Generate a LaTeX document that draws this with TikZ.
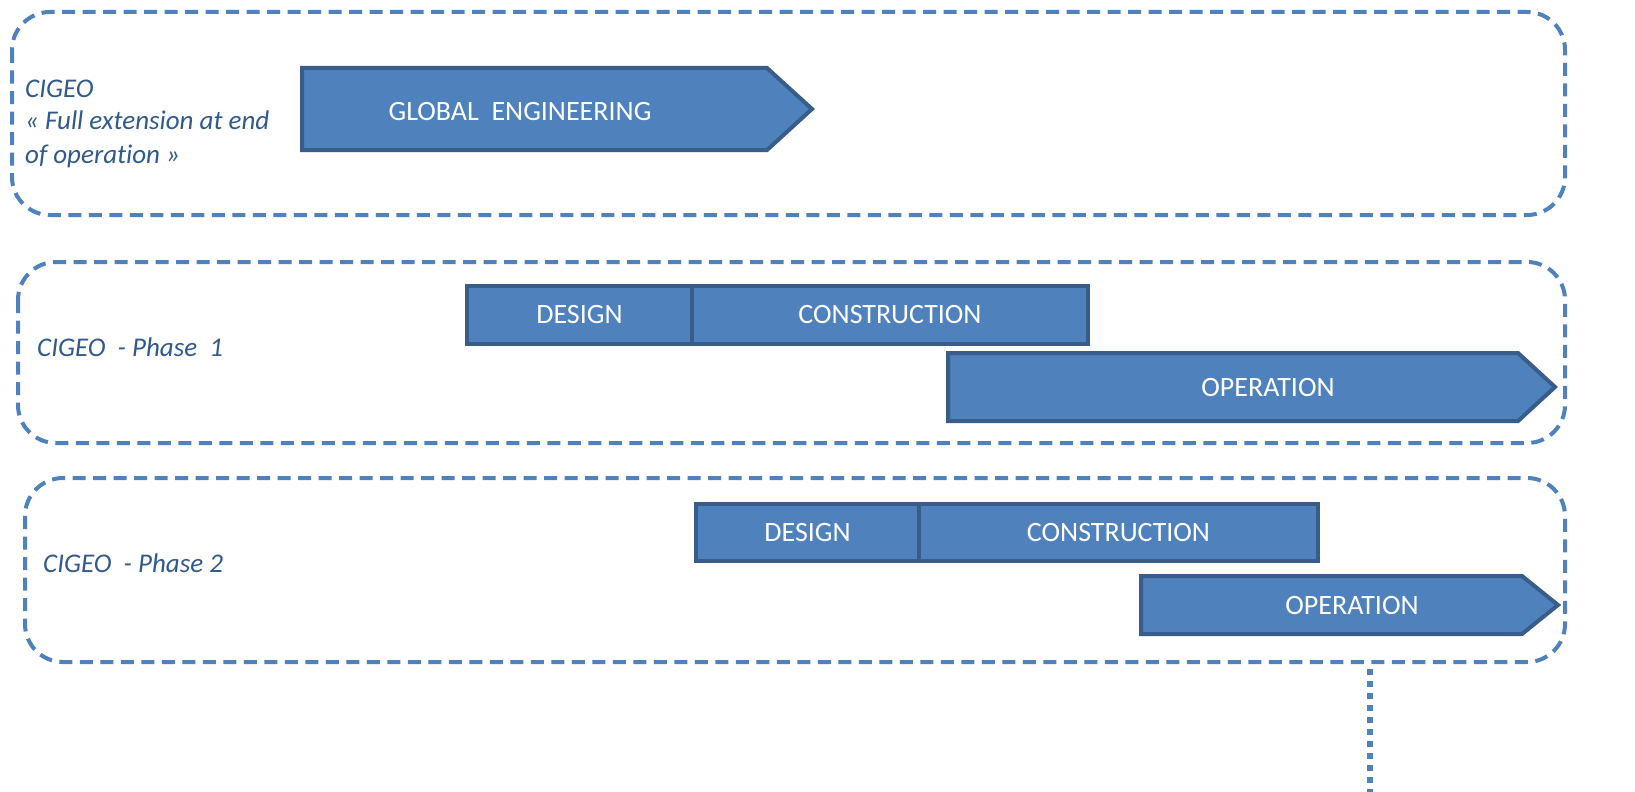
\documentclass[tikz,border=0pt]{standalone}
\usepackage{fontspec}
\setmainfont[Ligatures={NoCommon,NoContextual}]{Carlito}
\definecolor{barfill}{HTML}{4F81BD}
\definecolor{bardraw}{HTML}{385D8A}
\definecolor{grpline}{HTML}{4F81BD}
\definecolor{lbltext}{HTML}{31598C}
\begin{document}
\begin{tikzpicture}[x=1pt,y=-1pt,
  grp/.style={draw=grpline,line width=4pt,dash pattern=on 13pt off 7.5pt,rounded corners=38pt},
  bar/.style={draw=bardraw,fill=barfill,line width=4pt,inner sep=0pt,text=white,font=\fontsize{28}{34}\selectfont},
  bartxt/.style={text=white,font=\fontsize{28}{34}\selectfont,inner sep=0pt},
  lbl/.style={text=lbltext,font=\fontsize{27}{33}\selectfont\itshape,inner sep=0pt,anchor=base west},
  dots/.style={draw=grpline,line width=6pt,dash pattern=on 6pt off 6pt}]
\useasboundingbox (0,0) rectangle (1635,792);
% groups
\draw[grp] (12,12) rectangle (1565,215);
\draw[grp] (18,262) rectangle (1565,443);
\draw[grp] (25,478) rectangle (1565,662);
% labels
\node[lbl] (l1a) at (25,97) {CIGEO};
\node[lbl] (l1b) at (25,129) {« Full extension at end};
\node[lbl] (l1c) at (25,163) {of operat\kern0pt ion »};
\node[lbl] (l2) at (37,356) {CIGEO\ \ - Phase\ \ 1};
\node[lbl] (l3) at (43,572) {CIGEO\ \ - Phase 2};
% global engineering arrow
\draw[bar] (302,68) -- (767,68) -- (812,109) -- (767,150) -- (302,150) -- cycle;
\node[bartxt] (ge) at (520,112) {GLOBAL\ \ ENGINEERING};
% phase 1
\node[bar,anchor=north west,minimum width=225pt,minimum height=58pt] (d1) at (465,284) {DESIGN};
\node[bar,anchor=north west,minimum width=396pt,minimum height=58pt] (c1) at (690,284) {CONSTRUCTION};
\draw[bar] (948,353) -- (1518,353) -- (1555,387) -- (1518,421) -- (948,421) -- cycle;
\node[bartxt] (o1) at (1268,388) {OPERATION};
% phase 2
\node[bar,anchor=north west,minimum width=223pt,minimum height=57pt] (d2) at (694,502) {DESIGN};
\node[bar,anchor=north west,minimum width=399pt,minimum height=57pt] (c2) at (917,502) {CONSTRUCTION};
\draw[bar] (1141,576) -- (1522,576) -- (1558,605) -- (1522,634) -- (1141,634) -- cycle;
\node[bartxt] (o2) at (1352,606) {OPERATION};
% dotted line
\coordinate (dtop) at (1370,669);
\coordinate (dbot) at (1370,792);
\draw[dots] (dtop) -- (dbot);
\end{tikzpicture}
\end{document}
